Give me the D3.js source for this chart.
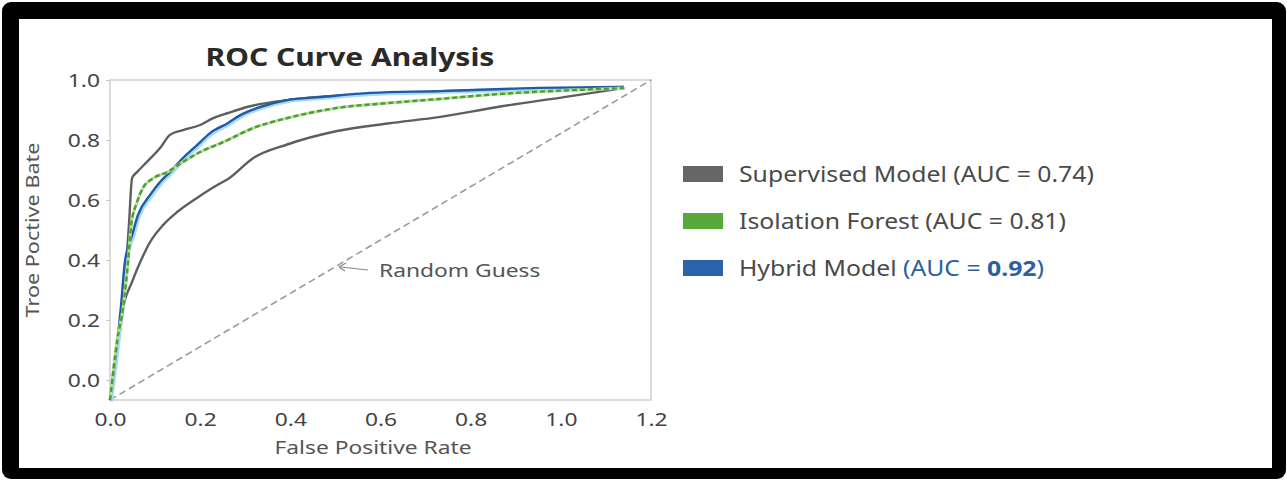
<!DOCTYPE html>
<html>
<head>
<meta charset="utf-8">
<script src="https://cdn.jsdelivr.net/npm/d3@7"></script>
<style>
  body { margin: 0; background: #fff; }
  text { font-family: "Noto Sans", "Open Sans", sans-serif; }
</style>
</head>
<body>
<svg id="chart" width="1287" height="480"></svg>
<script>
// ROC data (fpr on x, tpr on y)
const supHighFpr = [0, 0.018, 0.029, 0.042, 0.049, 0.06, 0.082, 0.111, 0.133, 0.162, 0.2, 0.229, 0.262, 0.304, 0.393, 0.533, 0.756, 0.978, 1.14];
const supHighTpr = [-0.067, 0.12, 0.24, 0.517, 0.673, 0.693, 0.727, 0.773, 0.817, 0.833, 0.85, 0.873, 0.89, 0.91, 0.933, 0.95, 0.963, 0.97, 0.977];

const supLowFpr = [0, 0.018, 0.029, 0.049, 0.067, 0.089, 0.118, 0.149, 0.193, 0.238, 0.262, 0.318, 0.393, 0.504, 0.616, 0.733, 0.86, 1.007, 1.14];
const supLowTpr = [-0.067, 0.127, 0.24, 0.327, 0.393, 0.46, 0.517, 0.56, 0.607, 0.65, 0.67, 0.74, 0.785, 0.83, 0.855, 0.877, 0.91, 0.943, 0.973];

const isoFpr = [0, 0.016, 0.029, 0.04, 0.047, 0.06, 0.073, 0.096, 0.127, 0.162, 0.2, 0.251, 0.318, 0.393, 0.504, 0.616, 0.733, 0.86, 1.038, 1.14];
const isoTpr = [-0.067, 0.133, 0.24, 0.393, 0.517, 0.593, 0.64, 0.673, 0.693, 0.727, 0.76, 0.793, 0.84, 0.873, 0.907, 0.923, 0.937, 0.953, 0.967, 0.973];

const hybFpr = [0, 0.016, 0.024, 0.033, 0.049, 0.062, 0.089, 0.111, 0.133, 0.162, 0.193, 0.222, 0.262, 0.289, 0.333, 0.393, 0.467, 0.578, 0.733, 0.933, 1.14];
const hybTpr = [-0.067, 0.127, 0.24, 0.393, 0.483, 0.55, 0.617, 0.66, 0.693, 0.74, 0.783, 0.823, 0.857, 0.883, 0.91, 0.933, 0.943, 0.957, 0.963, 0.973, 0.977];

const xTicks = [0, 0.2, 0.4, 0.6, 0.8, 1.0, 1.2];
const yTicks = [0, 0.2, 0.4, 0.6, 0.8, 1.0];

const legendNames = ["Supervised Model", "Isolation Forest", "Hybrid Model"];
const legendAuc = ["0.74", "0.81", "0.92"];
const legendColors = ["#666666", "#58a83c", "#2a62ae"];

// the source picture is stretched sideways, so text gets widened too
const SX = 1.2;

const svg = d3.select("#chart");

// black frame round the whole picture
svg.append("rect").attr("x", 2).attr("y", 2).attr("width", 1284).attr("height", 477)
  .attr("rx", 9).attr("fill", "#000");
svg.append("rect").attr("x", 19).attr("y", 19).attr("width", 1253).attr("height", 449)
  .attr("fill", "#fff");

const x = d3.scaleLinear().domain([0, 1.2]).range([110, 651]);
const y = d3.scaleLinear().domain([-1 / 15, 1.0]).range([400, 80]);

// plot frame
svg.append("rect")
  .attr("x", x(0)).attr("y", y(1))
  .attr("width", x(1.2) - x(0)).attr("height", y(-1 / 15) - y(1))
  .attr("fill", "none").attr("stroke", "#cfcfcf").attr("stroke-width", 1.5);

// axes
const yAxis = svg.append("g").attr("transform", `translate(${x(0)},0)`)
  .call(d3.axisLeft(y).tickValues(yTicks).tickFormat(d3.format(".1f")).tickSize(4));
yAxis.select(".domain").remove();
yAxis.selectAll("line").attr("stroke", "#c8c8c8");
yAxis.selectAll("text").attr("font-size", 19).attr("fill", "#444")
  .attr("x", -10 / SX).attr("transform", `scale(${SX},1)`)
  .style("font-family", "'Noto Sans', sans-serif");

const xAxis = svg.append("g").attr("transform", `translate(0,${y(-1 / 15)})`)
  .call(d3.axisBottom(x).tickValues(xTicks).tickFormat(d3.format(".1f")).tickSize(0).tickPadding(13));
xAxis.select(".domain").remove();
xAxis.selectAll("text").attr("font-size", 19).attr("fill", "#444")
  .attr("transform", `scale(${SX},1)`)
  .style("font-family", "'Noto Sans', sans-serif");

// random guess diagonal
svg.append("line")
  .attr("x1", x(0)).attr("y1", y(-1 / 15)).attr("x2", x(1.2)).attr("y2", y(1))
  .attr("stroke", "#9a9a9a").attr("stroke-width", 1.6).attr("stroke-dasharray", "7,4");

const line = d3.line().curve(d3.curveMonotoneX).x(d => x(d[0])).y(d => y(d[1]));
const pts = (a, b) => a.map((v, i) => [v, b[i]]);

// supervised curves
svg.append("path").attr("d", line(pts(supLowFpr, supLowTpr)))
  .attr("fill", "none").attr("stroke", "#5e5e5e").attr("stroke-width", 2.4);
svg.append("path").attr("d", line(pts(supHighFpr, supHighTpr)))
  .attr("fill", "none").attr("stroke", "#5e5e5e").attr("stroke-width", 2.4);

// hybrid with light halo
svg.append("path").attr("d", line(pts(hybFpr, hybTpr)))
  .attr("transform", "translate(1.5,1.5)")
  .attr("fill", "none").attr("stroke", "#a6dcf5").attr("stroke-width", 3);
svg.append("path").attr("d", line(pts(hybFpr, hybTpr)))
  .attr("fill", "none").attr("stroke", "#1f5aa6").attr("stroke-width", 2.4);

// isolation forest, dashed green on light green
svg.append("path").attr("d", line(pts(isoFpr, isoTpr)))
  .attr("fill", "none").attr("stroke", "#b5e09a").attr("stroke-width", 3);
svg.append("path").attr("d", line(pts(isoFpr, isoTpr)))
  .attr("fill", "none").attr("stroke", "#4f9c36").attr("stroke-width", 2.4)
  .attr("stroke-dasharray", "5,3");

// helper for sideways-stretched text
function label(px, py, str, size, anchor) {
  return svg.append("text")
    .attr("transform", `translate(${px},${py}) scale(${SX},1)`)
    .attr("text-anchor", anchor || "start")
    .attr("font-size", size)
    .text(str);
}

// random guess label
svg.append("line").attr("x1", 341).attr("y1", 267).attr("x2", 368).attr("y2", 270)
  .attr("stroke", "#888").attr("stroke-width", 1.2);
svg.append("path").attr("d", "M339,267 L346,263 M339,267 L345,271")
  .attr("stroke", "#888").attr("stroke-width", 1.2).attr("fill", "none");
label(379, 277, "Random Guess", 19).attr("fill", "#555");

// titles
label(350, 66, "ROC Curve Analysis", 25, "middle")
  .attr("font-weight", "bold").attr("fill", "#2a2a2a");
label(373, 454, "False Positive Rate", 19, "middle").attr("fill", "#555");
svg.append("text").attr("transform", `translate(39,230) rotate(-90) scale(${SX},1)`)
  .attr("text-anchor", "middle")
  .attr("font-size", 18).attr("fill", "#555")
  .text("Troe Poctive Bate");

// legend
const legend = svg.append("g");
legendNames.forEach((name, i) => {
  const cy = 174 + i * 47;
  legend.append("rect").attr("x", 683).attr("y", cy - 8).attr("width", 40).attr("height", 16)
    .attr("fill", legendColors[i]);
  const t = legend.append("text").attr("transform", `translate(739,${cy + 8}) scale(1.18,1)`)
    .attr("font-size", 21).attr("fill", "#4a4a4a");
  if (i === 2) {
    t.append("tspan").text(name + " ");
    const b = t.append("tspan").attr("fill", "#2c5f9e");
    b.append("tspan").text("(AUC = ");
    b.append("tspan").attr("font-weight", "bold").text(legendAuc[i]);
    b.append("tspan").text(")");
  } else {
    t.text(`${name} (AUC = ${legendAuc[i]})`);
  }
});
</script>
</body>
</html>
